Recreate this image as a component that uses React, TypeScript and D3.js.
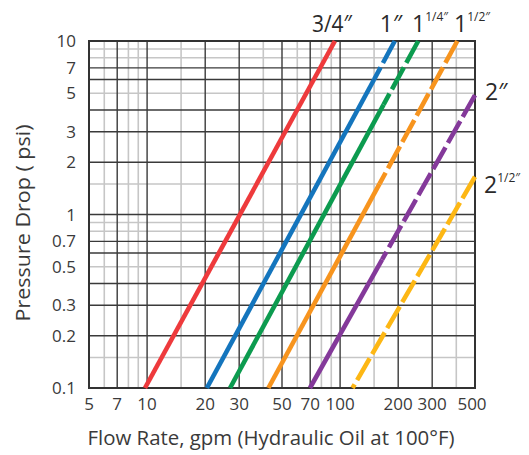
import React from "react";
import * as d3 from "d3";

// ---- data ----
const sizeLabels = ["3/4", "1", "1 1/4", "1 1/2", "2", "2 1/2"];
const lineColors = ["#ee3a3c", "#1475bd", "#0c9b4f", "#f7941e", "#84399a", "#fdb714"];
// flow (gpm) where each line crosses 0.1 psi
const startFlow = [9.75, 20.4, 26.9, 42.5, 69.8, 116];
// end point of each line
const endFlow = [94, 192, 254, 405, 500, 500];
const endPsi = [10, 10, 10, 10, 4.88, 1.65];
// point where the line turns from solid to dashed (null = never dashed)
const dashFlow: (number | null)[] = [null, 150, 168, 160, 165, 116];
const dashPsi: (number | null)[] = [null, 6, 4.3, 1.5, 0.55, 0.1];

const xTicks = [5, 7, 10, 20, 30, 50, 70, 100, 200, 300, 500];
const yTicks = [0.1, 0.2, 0.3, 0.5, 0.7, 1, 2, 3, 5, 7, 10];
const xGridDark = [7, 10, 20, 30, 50, 70, 100, 200, 300];
const xGridLight = [6, 8, 9, 15, 40, 60, 80, 90, 150, 400];
const yGridDark = [0.2, 0.3, 0.4, 0.6, 0.7, 1, 2, 3, 4, 6, 7];
const yGridLight = [0.15, 0.5, 0.8, 0.9, 1.5, 5, 8, 9];

const W = 529;
const H = 455;
const left = 89;
const right = 475;
const top = 41;
const bottom = 388;

const FONT = "'Open Sans', 'Noto Sans', sans-serif";
const TXT = "#3a3a3a";

export default function App() {
  const x = d3.scaleLog().domain([5, 500]).range([left, right]);
  const y = d3.scaleLog().domain([0.1, 10]).range([bottom, top]);
  const line = d3
    .line<[number, number]>()
    .x((d) => x(d[0]))
    .y((d) => y(d[1]));

  const fmt = (v: number) => String(v);

  return (
    <svg
      width={W}
      height={H}
      viewBox={`0 0 ${W} ${H}`}
      style={{ position: "absolute", left: 0, top: 0, background: "#fff" }}
    >
      <rect x={0} y={0} width={W} height={H} fill="#fff" />
      {/* light grid */}
      <g stroke="#c6c6c6" strokeWidth={1.6}>
        {xGridLight.map((v) => (
          <line key={"xl" + v} x1={x(v)} x2={x(v)} y1={top} y2={bottom} />
        ))}
        {yGridLight.map((v) => (
          <line key={"yl" + v} x1={left} x2={right} y1={y(v)} y2={y(v)} />
        ))}
      </g>
      {/* dark grid */}
      <g stroke="#3a3a3a" strokeWidth={1.4}>
        {xGridDark.map((v) => (
          <line key={"xd" + v} x1={x(v)} x2={x(v)} y1={top} y2={bottom} />
        ))}
        {yGridDark.map((v) => (
          <line key={"yd" + v} x1={left} x2={right} y1={y(v)} y2={y(v)} />
        ))}
      </g>
      <rect
        x={left}
        y={top}
        width={right - left}
        height={bottom - top}
        fill="none"
        stroke="#333"
        strokeWidth={2}
      />

      {/* series */}
      <g fill="none" strokeWidth={4.6}>
        {sizeLabels.map((s, i) => {
          const a: [number, number] = [startFlow[i], 0.1];
          const b: [number, number] = [endFlow[i], endPsi[i]];
          const df = dashFlow[i];
          const dp = dashPsi[i];
          if (df === null || dp === null) {
            return <path key={s} d={line([a, b]) || ""} stroke={lineColors[i]} />;
          }
          const m: [number, number] = [df, dp];
          return (
            <g key={s}>
              {df > startFlow[i] && (
                <path d={line([a, m]) || ""} stroke={lineColors[i]} />
              )}
              <path
                d={line([b, m]) || ""}
                stroke={lineColors[i]}
                strokeDasharray="25 5"
              />
            </g>
          );
        })}
      </g>

      {/* y tick labels */}
      <g fontFamily={FONT} fontSize={17} fill={TXT} textAnchor="end">
        {yTicks.map((v) => (
          <text key={"yt" + v} x={76} y={y(v)} dy="0.36em">
            {fmt(v)}
          </text>
        ))}
      </g>
      {/* x tick labels */}
      <g fontFamily={FONT} fontSize={17} fill={TXT} textAnchor="middle">
        {xTicks.map((v) => (
          <text key={"xt" + v} x={Math.min(x(v), 472)} y={410}>
            {fmt(v)}
          </text>
        ))}
      </g>

      {/* axis titles */}
      <text
        x={271}
        y={445}
        fontFamily={FONT}
        fontSize={20}
        fill={TXT}
        textAnchor="middle"
        textLength={367}
        lengthAdjust="spacingAndGlyphs"
      >
        Flow Rate, gpm (Hydraulic Oil at 100°F)
      </text>
      <text
        transform="translate(30,223) rotate(-90)"
        fontFamily={FONT}
        fontSize={20}
        fill={TXT}
        textAnchor="middle"
        textLength={197}
        lengthAdjust="spacingAndGlyphs"
      >
        Pressure Drop ( psi)
      </text>

      {/* size labels */}
      <g fontFamily={FONT} fontSize={23} fill="#2a2a2a">
        <text x={332} y={32} textAnchor="middle" textLength={40} lengthAdjust="spacingAndGlyphs">3/4″</text>
        <text x={391} y={32} textAnchor="middle">1″</text>
        <text x={412} y={32}>
          1<tspan fontSize={12} dy={-11}>1/4″</tspan>
        </text>
        <text x={454} y={32}>
          1<tspan fontSize={12} dy={-11}>1/2″</tspan>
        </text>
        <text x={485} y={100}>2″</text>
        <text x={484} y={193}>
          2<tspan fontSize={12} dy={-11}>1/2″</tspan>
        </text>
      </g>
    </svg>
  );
}
